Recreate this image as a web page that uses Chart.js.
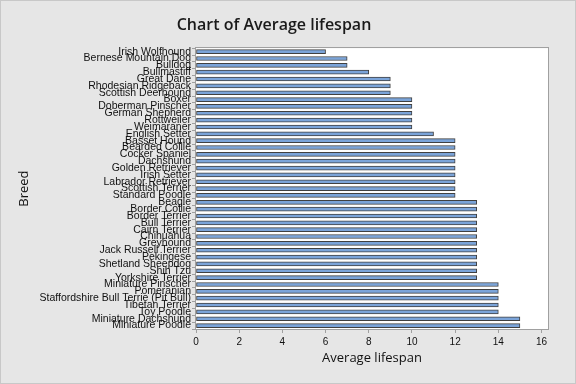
<!DOCTYPE html>
<html>
<head>
<meta charset="utf-8">
<style>
html,body{margin:0;padding:0;background:#e6e6e6;}
canvas{display:block;}
</style>
<script src="https://cdn.jsdelivr.net/npm/chart.js@4.4.0/dist/chart.umd.min.js"></script>
</head>
<body>
<canvas id="c" width="576" height="384"></canvas>
<script>
const breeds = ["Irish Wolfhound","Bernese Mountain Dog","Bulldog","Bullmastiff","Great Dane","Rhodesian Ridgeback","Scottish Deerhound","Boxer","Doberman Pinscher","German Shepherd","Rottweiler","Weimaraner","English Setter","Basset Hound","Bearded Collie","Cocker Spaniel","Dachshund","Golden Retriever","Irish Setter","Labrador Retriever","Scottish Terrier","Standard Poodle","Beagle","Border Collie","Border Terrier","Bull Terrier","Cairn Terrier","Chihuahua","Greyhound","Jack Russell Terrier","Pekingese","Shetland Sheepdog","Shih Tzu","Yorkshire Terrier","Miniature Pinscher","Pomeranian","Staffordshire Bull Terrie (Pit Bull)","Tibetan Terrier","Toy Poodle","Miniature Dachshund","Miniature Poodle"];
const lifespans = [6,7,7,8,9,9,9,10,10,10,10,10,11,12,12,12,12,12,12,12,12,12,13,13,13,13,13,13,13,13,13,13,13,13,14,14,14,14,14,15,15];
const xTicks = [0,2,4,6,8,10,12,14,16];

const bgPlugin = {
  id: 'bg',
  beforeDraw(chart) {
    const {ctx, chartArea: a, width, height} = chart;
    ctx.save();
    ctx.fillStyle = '#e6e6e6';
    ctx.fillRect(0, 0, width, height);
    ctx.strokeStyle = '#c8c8c8';
    ctx.lineWidth = 1;
    ctx.strokeRect(0.5, 0.5, width - 1, height - 1);
    ctx.fillStyle = '#ffffff';
    ctx.fillRect(a.left, a.top, a.right - a.left, a.bottom - a.top);
    ctx.restore();
  },
  afterDatasetsDraw(chart) {
    const {ctx, chartArea: a} = chart;
    ctx.save();
    ctx.strokeStyle = '#a0a0a0';
    ctx.lineWidth = 1;
    ctx.strokeRect(Math.round(a.left) - 0.5, Math.round(a.top) - 0.5, Math.round(a.right - a.left) + 1, Math.round(a.bottom - a.top) + 1);
    ctx.restore();
  }
};

new Chart(document.getElementById('c'), {
  type: 'bar',
  data: {
    labels: breeds,
    datasets: [{
      data: lifespans,
      backgroundColor: '#7ba4d9',
      borderColor: '#404040',
      borderWidth: 1,
      borderSkipped: false,
      barThickness: 4
    }]
  },
  options: {
    indexAxis: 'y',
    responsive: false,
    animation: false,
    layout: { padding: { left: 0, right: 28, top: 0, bottom: 0 } },
    plugins: {
      legend: { display: false },
      tooltip: { enabled: false },
      title: {
        display: true,
        text: 'Chart of Average lifespan',
        color: '#1a1a1a',
        font: { family: 'Open Sans', size: 16, weight: '600', lineHeight: 1.2 },
        padding: { top: 16, bottom: 13 }
      }
    },
    scales: {
      x: {
        min: 0,
        max: 16.3,
        afterBuildTicks(scale) { scale.ticks = xTicks.map(v => ({ value: v })); },
        afterFit(scale) { scale.height = 55; },
        grid: { drawOnChartArea: false, tickLength: 4, color: '#a0a0a0' },
        border: { display: false },
        ticks: { color: '#111', font: { family: 'Liberation Sans', size: 10 }, padding: 3, maxRotation: 0 },
        title: {
          display: true,
          text: 'Average lifespan',
          color: '#111',
          font: { family: 'Open Sans', size: 13, lineHeight: 1.2 },
          padding: { top: 0, bottom: 18 }
        }
      },
      y: {
        afterFit(scale) { scale.width = 196; },
        grid: { drawOnChartArea: false, tickLength: 4, color: '#a0a0a0' },
        border: { display: false },
        ticks: { color: '#111', autoSkip: false, font: { family: 'Liberation Sans', size: 10.5 }, padding: 1 },
        title: {
          display: true,
          text: 'Breed',
          color: '#111',
          font: { family: 'Open Sans', size: 13, lineHeight: 1.2 },
          padding: { top: 16, bottom: 0 }
        }
      }
    }
  },
  plugins: [bgPlugin]
});
</script>
</body>
</html>
